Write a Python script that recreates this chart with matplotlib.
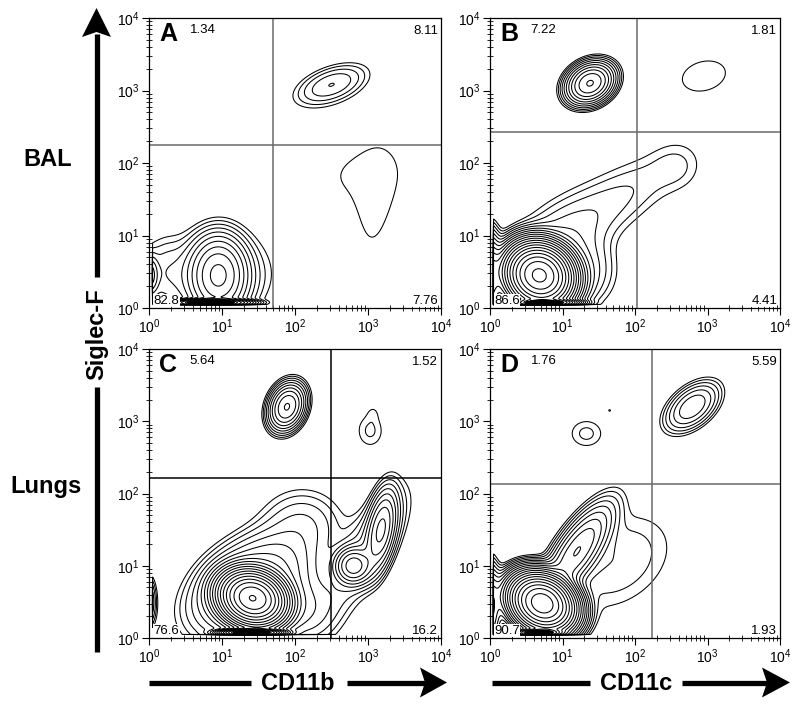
import numpy as np
import matplotlib
matplotlib.use("Agg")
import matplotlib.pyplot as plt
from matplotlib.lines import Line2D
from matplotlib.patches import Polygon

plt.rcParams['font.family'] = ['Liberation Sans', 'DejaVu Sans']
plt.rcParams['mathtext.fontset'] = 'custom'
plt.rcParams['mathtext.rm'] = 'Liberation Sans'
plt.rcParams['mathtext.it'] = 'Liberation Sans:italic'
plt.rcParams['mathtext.bf'] = 'Liberation Sans:bold'

# ---------------- data ----------------
panel_letters = ["A", "B", "C", "D"]
x_labels = ["CD11b", "CD11c"]
y_label = "Siglec-F"
row_labels = ["BAL", "Lungs"]

# quadrant gates (x, y) in fluorescence units
gates_x = [50, 105, 316, 174]
gates_y = [178, 270, 163, 135]

# quadrant percentages: UL, UR, LL, LR
pct_A = ["1.34", "8.11", "82.8", "7.76"]
pct_B = ["7.22", "1.81", "86.6", "4.41"]
pct_C = ["5.64", "1.52", "76.6", "16.2"]
pct_D = ["1.76", "5.59", "90.7", "1.93"]

# populations: (log10 x centre, log10 y centre, sd major, sd minor, angle deg, peak density)
pops_A = [
    (0.95, 0.45, 0.20, 0.28, 0, 40),
    (0.90, 0.45, 0.45, 0.35, 0, 4),
    (0.20, 0.50, 0.20, 0.30, 0, 2),
    (0.02, 0.45, 0.06, 0.15, 0, 8),
    (2.50, 3.08, 0.30, 0.14, 20, 5),
    (2.92, 1.85, 0.90, 0.60, 10, 1.05),
    (3.08, 1.20, 0.55, 0.17, 85, 0.70),
]
pops_B = [
    (1.38, 3.10, 0.17, 0.13, 30, 60),
    (2.95, 3.20, 0.35, 0.23, 15, 1.45),
    (0.68, 0.45, 0.18, 0.20, 60, 2500),
    (1.75, 1.50, 0.65, 0.27, 33, 2.3),
    (2.60, 1.95, 0.25, 0.25, 0, 1.1),
    (0.90, 0.90, 0.50, 0.30, 40, 3.5),
    (1.20, 0.50, 0.30, 0.30, 0, 5),
    (0.00, 0.40, 0.08, 0.30, 0, 50),
]
pops_C = [
    (1.89, 3.20, 0.17, 0.12, 70, 40),
    (3.03, 2.87, 0.15, 0.19, 0, 1.65),
    (3.07, 3.12, 0.06, 0.08, 0, 0.6),
    (1.42, 0.55, 0.16, 0.20, 70, 1500),
    (1.40, 0.75, 0.48, 0.30, 35, 20),
    (2.10, 1.60, 0.35, 0.30, 0, 3),
    (2.10, 0.40, 0.30, 0.30, 0, 5),
    (2.80, 1.00, 0.13, 0.13, 0, 30),
    (3.18, 1.50, 0.30, 0.10, 80, 25),
    (3.00, 1.25, 0.55, 0.20, 60, 5),
    (0.00, 0.50, 0.06, 0.20, 0, 6),
]
pops_D = [
    (2.79, 3.20, 0.24, 0.14, 40, 11),
    (1.33, 2.83, 0.19, 0.16, 0, 1.7),
    (1.65, 3.15, 0.02, 0.02, 0, 1.1),
    (0.72, 0.48, 0.16, 0.20, 60, 2000),
    (1.20, 1.20, 0.40, 0.14, 56, 25),
    (1.75, 1.05, 0.60, 0.42, 35, 2.2),
    (0.00, 0.40, 0.08, 0.30, 0, 30),
]

# events piled on the y-axis minimum: (log10 x centre, sd, peak density)
pile_A = (0.85, 0.22, 300)
pile_B = (0.75, 0.18, 1000)
pile_C = (1.40, 0.17, 1000)
pile_D = (0.68, 0.13, 1000)

all_pops = [pops_A, pops_B, pops_C, pops_D]
all_piles = [pile_A, pile_B, pile_C, pile_D]
all_pcts = [pct_A, pct_B, pct_C, pct_D]
level_ratio = 1.5
n_levels = 26

# ---------------- figure ----------------
W, H = 800, 705
fig = plt.figure(figsize=(W / 100, H / 100), dpi=100)


def fx(px):
    return px / W


def fy(py):
    return 1 - py / H


rects = [(149, 18, 441, 308), (490, 18, 780, 308),
         (149, 349, 441, 638), (490, 349, 780, 638)]

g = np.linspace(0, 4, 801)
GX, GY = np.meshgrid(g, g)
PILE_Y, PILE_SD = 0.075, 0.022


def gauss(cx, cy, sa, sb, ang, amp):
    t = np.radians(ang)
    dx, dy = GX - cx, GY - cy
    u = dx * np.cos(t) + dy * np.sin(t)
    v = -dx * np.sin(t) + dy * np.cos(t)
    return amp * np.exp(-0.5 * ((u / sa) ** 2 + (v / sb) ** 2))


def clip(Z):
    Z = Z.copy()
    Z[(GX < 0.05) | (GY < 0.05)] = 0
    return Z


levels = level_ratio ** np.arange(n_levels)

for i, (l, t, r, b) in enumerate(rects):
    ax = fig.add_axes([fx(l), fy(b), fx(r) - fx(l), fy(t) - fy(b)])
    ax.set_xscale('log')
    ax.set_yscale('log')
    Z = np.zeros_like(GX)
    for pp in all_pops[i]:
        Z += gauss(*pp)
    px, psd, pamp = all_piles[i]
    P = gauss(px, PILE_Y, psd, PILE_SD, 0, pamp)
    Z = clip(Z + P)
    ax.contour(10 ** GX, 10 ** GY, Z, levels=levels, colors='black',
               linewidths=0.75)
    ax.contourf(10 ** GX, 10 ** GY, clip(P), levels=[pamp * 0.35, 1e9],
                colors='black')
    ax.set_xlim(1, 1e4)
    ax.set_ylim(1, 1e4)
    gc = '#000000' if i == 2 else '#6a6a6a'
    ax.axvline(gates_x[i], color=gc, lw=1.1)
    ax.axhline(gates_y[i], color=gc, lw=1.1)
    ax.tick_params(which='major', direction='out', length=5, width=0.8,
                   labelsize=10, pad=2)
    ax.tick_params(which='minor', direction='inout', length=4, width=0.6)
    for s in ax.spines.values():
        s.set_linewidth(0.9)
    p = all_pcts[i]
    ax.text(0.035, 0.945, panel_letters[i], transform=ax.transAxes,
            fontsize=18, fontweight='bold', ha='left', va='center')
    ax.text(0.14, 0.958, p[0], transform=ax.transAxes, fontsize=9.5,
            ha='left', va='center')
    ax.text(0.99, 0.955, p[1], transform=ax.transAxes, fontsize=9.5,
            ha='right', va='center')
    ax.text(0.015, 0.025, p[2], transform=ax.transAxes, fontsize=9.5,
            ha='left', va='center',
            bbox=dict(facecolor='white', edgecolor='none', pad=0.3))
    ax.text(0.99, 0.025, p[3], transform=ax.transAxes, fontsize=9.5,
            ha='right', va='center',
            bbox=dict(facecolor='white', edgecolor='none', pad=0.3))

# ---------------- arrows & labels ----------------
lw_arrow = 3.8
fig.add_artist(Line2D([fx(96.5), fx(96.5)], [fy(652), fy(387)],
                      color='black', lw=lw_arrow, solid_capstyle='butt'))
fig.add_artist(Line2D([fx(96.5), fx(96.5)], [fy(277), fy(34)],
                      color='black', lw=lw_arrow, solid_capstyle='butt'))
fig.add_artist(Polygon([(fx(96.5), fy(8)), (fx(111), fy(37)),
                        (fx(96.5), fy(32)), (fx(82), fy(37))],
                       closed=True, facecolor='black', edgecolor='none',
                       transform=fig.transFigure))
fig.text(fx(97), fy(334), y_label, rotation=90, fontsize=17,
         fontweight='bold', ha='center', va='center')
fig.text(fx(48), fy(160), row_labels[0], fontsize=17, fontweight='bold',
         ha='center', va='center')
fig.text(fx(46), fy(486), row_labels[1], fontsize=17, fontweight='bold',
         ha='center', va='center')

harrows = [(149, 251, 298, 347, 422, 447), (492, 590, 636, 682, 764, 790)]
for k, (a0, a1, tc, b0, b1, tip) in enumerate(harrows):
    yy = 682.5
    fig.add_artist(Line2D([fx(a0), fx(a1)], [fy(yy), fy(yy)], color='black',
                          lw=lw_arrow, solid_capstyle='butt'))
    fig.add_artist(Line2D([fx(b0), fx(b1 + 4)], [fy(yy), fy(yy)],
                          color='black', lw=lw_arrow, solid_capstyle='butt'))
    fig.add_artist(Polygon([(fx(tip), fy(yy)), (fx(b1 - 2), fy(yy - 15)),
                            (fx(b1 + 3), fy(yy)), (fx(b1 - 2), fy(yy + 15))],
                           closed=True, facecolor='black', edgecolor='none',
                           transform=fig.transFigure))
    fig.text(fx(tc), fy(yy + 1), x_labels[k], fontsize=17, fontweight='bold',
             ha='center', va='center')

fig.savefig('out.png', dpi=100)
